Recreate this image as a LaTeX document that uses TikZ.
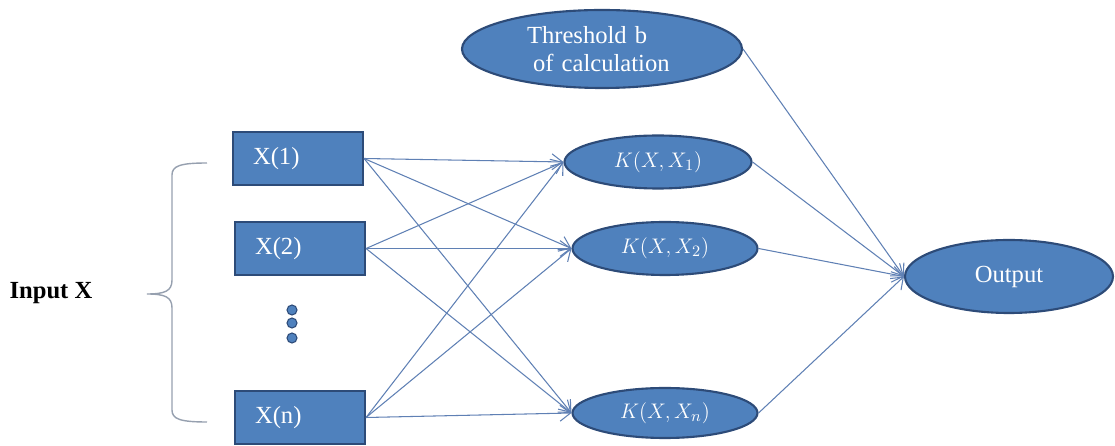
\documentclass[tikz,border=0pt]{standalone}
\usepackage{fontspec}
\setmainfont{Liberation Serif}
\usetikzlibrary{shapes.geometric,arrows.meta}
\definecolor{boxfill}{RGB}{79,129,189}
\definecolor{boxline}{RGB}{45,75,120}
\definecolor{linkcol}{RGB}{95,128,180}
\definecolor{bracecol}{RGB}{150,160,175}
\tikzset{
    inbox/.style={draw=boxline,line width=1.2pt,fill=boxfill,text=white,
        minimum height=1.06cm,text width=1.8cm,inner xsep=0.4cm,align=left},
    kern/.style={ellipse,draw=boxline,line width=1.2pt,fill=boxfill,text=white,
        minimum width=3.7cm,minimum height=1.06cm,inner sep=0pt,
        font=\fontsize{13}{15}\selectfont},
    dotc/.style={circle,fill=boxfill,draw=boxline,line width=0.6pt,
        minimum size=0.2cm,inner sep=0pt},
    conn/.style={draw=linkcol,line width=0.6pt,->,
        >={Straight Barb[length=6pt,width=9pt]}}
}

\begin{document}
\begin{tikzpicture}[font=\fontsize{14}{16}\selectfont]
        \useasboundingbox (0,0) rectangle (22.3,8.92);

        \node (in) [font=\fontsize{14}{16}\selectfont\bfseries] at (1.02,3.06) {Input X};

        \node (x1) [inbox] at (5.96,5.75) {X(1)};
        \node (x2) [inbox] at (6.0,3.95) {X(2)};
        \node (xn) [inbox] at (6.0,0.57) {X(n)};
        \foreach \y [count=\i] in {2.72,2.46,2.16}
            \node (d\i) [dotc] at (5.84,\y) {};

        \node (k1) [kern,minimum width=3.74cm] at (13.16,5.68) {$K(X,X_1)$};
        \node (k2) [kern] at (13.3,3.95) {$K(X,X_2)$};
        \node (kn) [kern,minimum height=1.0cm] at (13.3,0.66) {$K(X,X_n)$};

        \node (thr) [kern,minimum width=5.6cm,minimum height=1.56cm,
            text width=3.0cm,align=left,
            font=\fontsize{14}{16}\selectfont] at (12.04,7.94) {Threshold b\\\hspace*{0.12cm}of calculation};
        \node (out) [kern,minimum width=4.16cm,minimum height=1.46cm,
            font=\fontsize{14}{16}\selectfont] at (20.18,3.39) {Output};

        % brace round the inputs
        \draw[bracecol,line width=0.8pt] (4.14,5.66) .. controls (3.6,5.66) and (3.44,5.6) .. (3.44,5.42)
            -- (3.44,3.32) .. controls (3.44,3.1) and (3.3,3.04) .. (2.94,3.04)
            .. controls (3.3,3.04) and (3.44,2.98) .. (3.44,2.76)
            -- (3.44,0.72) .. controls (3.44,0.54) and (3.6,0.48) .. (4.14,0.48);

        \foreach \i in {1,2,n}
            \foreach \j in {1,2,n}
                \draw[conn] (x\i.east) -- (k\j.west);
        \foreach \j in {1,2,n}
            \draw[conn] (k\j.east) -- (out.west);
        \draw[conn] (thr.east) -- (out.west);
\end{tikzpicture}
\end{document}
